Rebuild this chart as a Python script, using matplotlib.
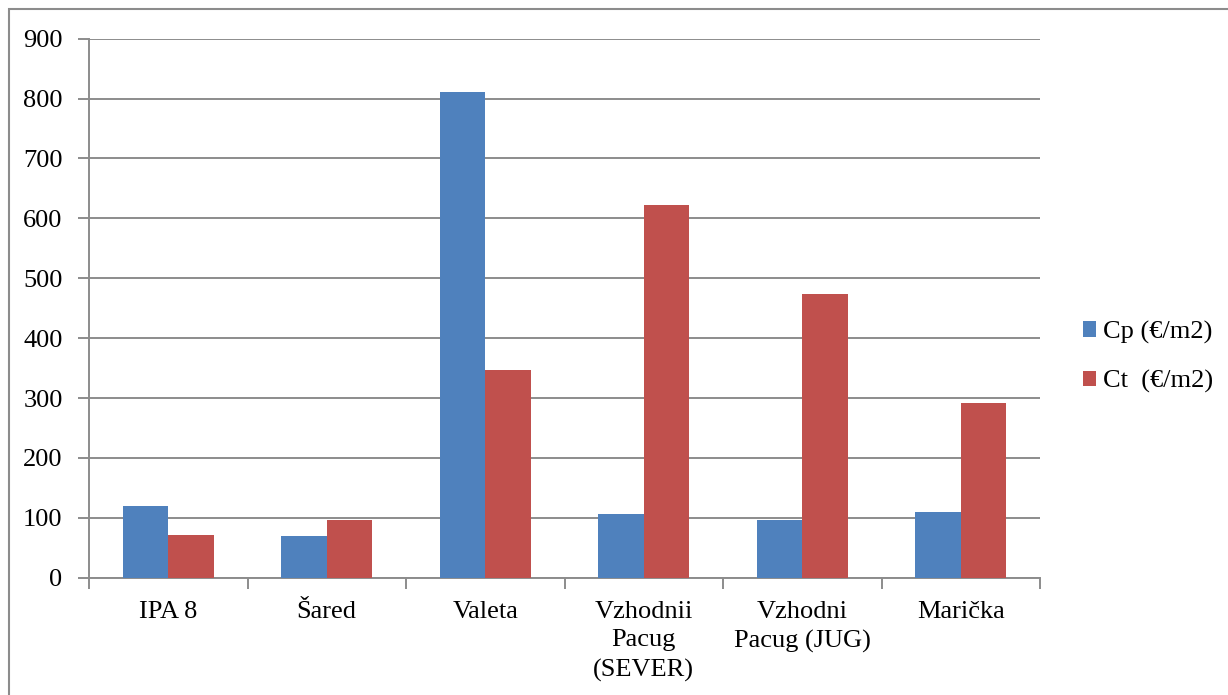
import matplotlib.pyplot as plt
import numpy as np
from matplotlib.patches import Rectangle

# cost per square metre for each site
sites = ['IPA 8', 'Šared', 'Valeta', 'Vzhodnii\nPacug\n(SEVER)', 'Vzhodni\nPacug (JUG)', 'Marička']
cp = [120, 70, 811, 107, 96, 110]
ct = [71, 96, 347, 623, 473, 292]
yticks = [0, 100, 200, 300, 400, 500, 600, 700, 800, 900]

plt.rcParams['font.family'] = ['Liberation Serif', 'DejaVu Serif']
fs = 19

W, H = 1228, 695
fig = plt.figure(figsize=(W/100, H/100), dpi=100)
ax = fig.add_axes([89/W, 1-577.7/H, (1040-89)/W, (577.7-38.7)/H])

x = np.arange(len(sites))
w = 0.2857
ax.bar(x - w/2, cp, w, color='#4F81BD', label='Cp (€/m2)', zorder=3)
ax.bar(x + w/2, ct, w, color='#C0504D', label='Ct  (€/m2)', zorder=3)

ax.set_xlim(-0.5, len(sites) - 0.5)
ax.set_ylim(0, 900)
ax.set_yticks(yticks)
ax.yaxis.grid(True, color='#8c8c8c', linewidth=1.4, zorder=0)

# category labels sit between boundary ticks
ax.set_xticks(x)
ax.set_xticklabels(sites, fontsize=fs, linespacing=1.4)
ax.set_xticks(np.arange(-0.5, len(sites)), minor=True)
ax.tick_params(axis='x', which='major', length=0, pad=16.5)
ax.tick_params(axis='x', which='minor', length=8, width=1.4, color='#8c8c8c')
ax.tick_params(axis='y', length=8, width=1.4, color='#8c8c8c', labelsize=fs, pad=11)

for s in ['top', 'right']:
    ax.spines[s].set_visible(False)
for s in ['left', 'bottom']:
    ax.spines[s].set_color('#8c8c8c')
    ax.spines[s].set_linewidth(1.4)

ax.legend(loc='center left', bbox_to_anchor=(1070/W, 1-357/H), bbox_transform=fig.transFigure,
          frameon=False, fontsize=fs, handlelength=0.5, handleheight=0.5,
          handletextpad=0.25, labelspacing=1.0, borderpad=0)

# outer chart frame
fig.patches.append(Rectangle((9/W, -0.1), 1.2, 1-9/H+0.1, transform=fig.transFigure,
                             fill=False, edgecolor='#8c8c8c', linewidth=1.5))

fig.savefig('out.png', dpi=100)
